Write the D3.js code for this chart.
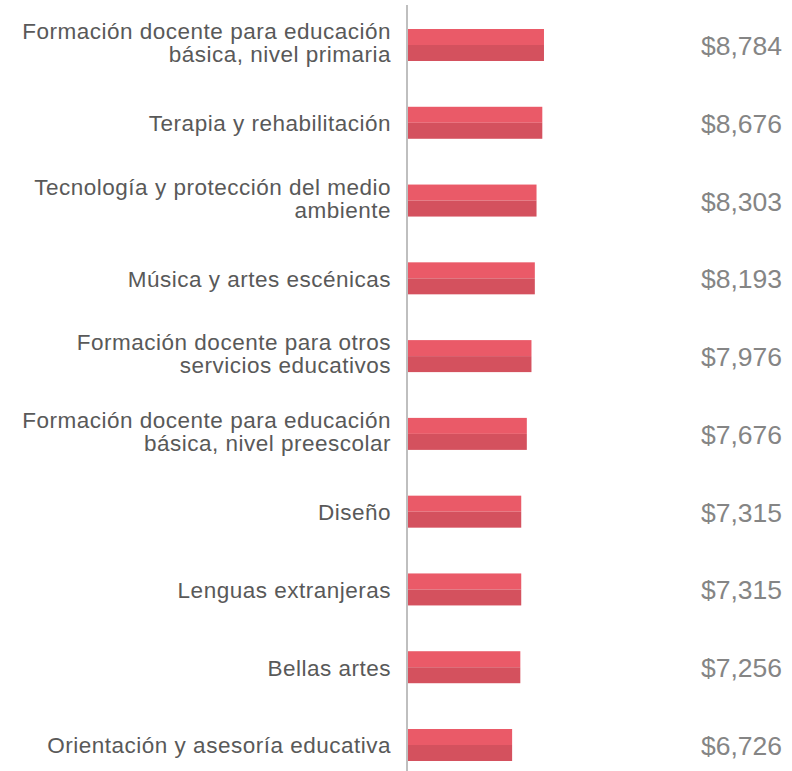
<!DOCTYPE html>
<html><head><meta charset="utf-8">
<script src="https://cdn.jsdelivr.net/npm/d3@7"></script>
<style>body{margin:0;background:#fff}svg{display:block}</style>
</head><body>
<script>
const categories = [
  ["Formación docente para educación","básica, nivel primaria"],
  ["Terapia y rehabilitación"],
  ["Tecnología y protección del medio","ambiente"],
  ["Música y artes escénicas"],
  ["Formación docente para otros","servicios educativos"],
  ["Formación docente para educación","básica, nivel preescolar"],
  ["Diseño"],
  ["Lenguas extranjeras"],
  ["Bellas artes"],
  ["Orientación y asesoría educativa"]
];
const values = [8784, 8676, 8303, 8193, 7976, 7676, 7315, 7315, 7256, 6726];

const W = 792, H = 771;
const svg = d3.select("body").append("svg").attr("width", W).attr("height", H);
const ids = categories.map((c,i)=>i);
const y = d3.scalePoint().domain(ids).range([45, 745]);
const x = d3.scaleLinear().domain([0, 10000]).range([408, 562.8]);
const bh = 32;
const fmt = d3.format("$,");

const g = svg.append("g");
const rows = g.selectAll("g.row").data(ids).join("g").attr("class","row");
rows.append("rect").attr("x", x(0)).attr("y", i=>y(i)-bh/2)
  .attr("width", i=>x(values[i])-x(0)).attr("height", bh/2).attr("fill","#EA5A68");
rows.append("rect").attr("x", x(0)).attr("y", i=>y(i))
  .attr("width", i=>x(values[i])-x(0)).attr("height", bh/2).attr("fill","#D4515E");

// category labels (one text element per line)
rows.each(function(i){
  const lines = categories[i];
  const lh = 23;
  const y0 = lines.length > 1 ? y(i) - 6 : y(i) + 8.3;
  lines.forEach((l,k)=>d3.select(this).append("text")
    .attr("text-anchor","end").attr("fill","#595959")
    .style("font-family","'Liberation Sans', Arial, sans-serif")
    .style("font-size","22.5px").style("letter-spacing","0.5px")
    .attr("x",391).attr("y", y0 + k*lh).text(l));
});

// value labels
rows.append("text").attr("x", 782).attr("y", i=>y(i)+10)
  .attr("text-anchor","end").attr("fill","#858585")
  .style("font-family","'Liberation Sans', Arial, sans-serif").style("font-size","26.5px")
  .text(i=>fmt(values[i]));

// axis line
svg.append("line").attr("x1",407).attr("x2",407).attr("y1",5).attr("y2",H)
  .attr("stroke","#BFBFBF").attr("stroke-width",2);
</script>
</body></html>
